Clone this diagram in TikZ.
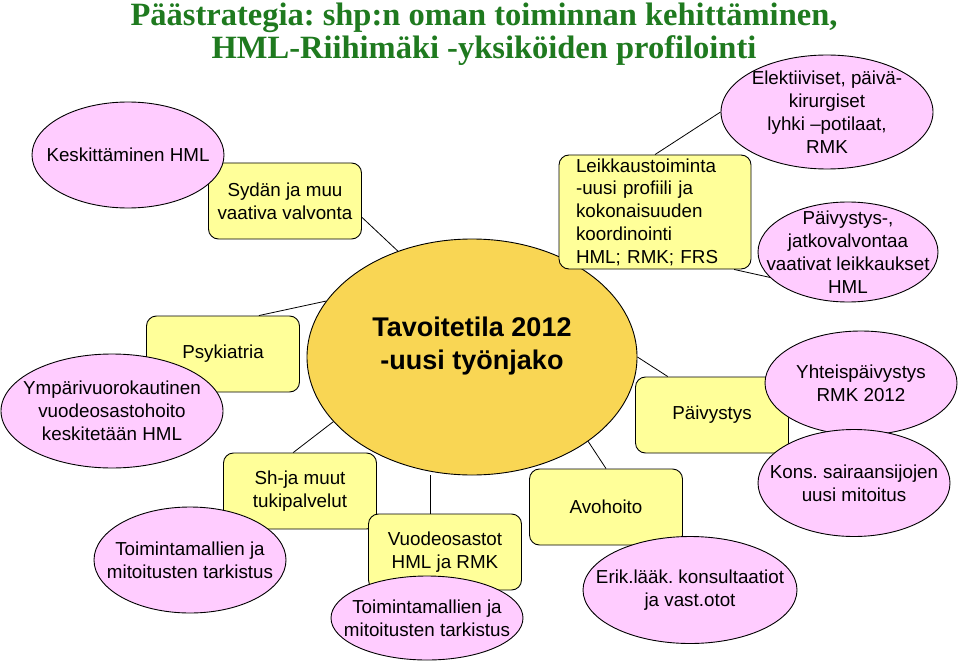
\documentclass[tikz,border=0pt]{standalone}
\usepackage{fontspec}
\setmainfont{Liberation Sans}
\newfontfamily\titlefont{Liberation Serif}
\usetikzlibrary{shapes.geometric}
\definecolor{pinkfill}{RGB}{255,204,255}
\definecolor{yfill}{RGB}{255,255,153}
\definecolor{cfill}{RGB}{249,214,84}
\definecolor{titlegreen}{RGB}{31,122,31}
\frenchspacing
\begin{document}
\begin{tikzpicture}[x=1pt,y=-1pt,
  lbl/.style={font=\fontsize{18.8}{22.8}\selectfont, align=center, text=black},
  ybox/.style={lbl, rectangle, draw=black, line width=0.9pt, fill=yfill, rounded corners=10pt,
    minimum width=153pt, minimum height=76pt, inner sep=0pt},
  pell/.style={lbl, ellipse, draw=black, line width=0.9pt, fill=pinkfill,
    inner xsep=-80pt, inner ysep=-40pt},
  conn/.style={draw=black, line width=0.8pt},
  titlestyle/.style={font=\titlefont\bfseries\fontsize{32.5}{33}\selectfont, text=titlegreen,
    align=center, inner sep=0pt}]
\useasboundingbox (0,0) rectangle (960,663);
\fill[white] (0,0) rectangle (960,663);

\node[titlestyle, anchor=north] (title) at (484,3)
  {Päästrategia: shp:n oman toiminnan kehittäminen,\\HML-Riihimäki -yksiköiden profilointi};

% centre
\node[ellipse, draw=black, line width=0.9pt, fill=cfill, minimum width=330pt, minimum height=236pt,
  inner sep=0pt, align=center, font=\fontsize{27}{33}\selectfont\bfseries, text depth=27pt] (c) at (472,357)
  {Tavoitetila 2012\\-uusi työnjako};

% boxes
\node[ybox] (syd) at (285,201) {Sydän ja muu\\vaativa valvonta};
\node[ybox] (psy) at (223,354) {Psykiatria};
\node[ybox] (sh) at (300,491) {Sh-ja muut\\tukipalvelut};
\node[ybox] (vuo) at (445,552) {Vuodeosastot\\HML ja RMK};
\node[ybox] (avo) at (606,507) {Avohoito};
\node[ybox] (pai) at (712,415) {Päivystys};
\node[ybox, minimum width=192pt, minimum height=114pt, text width=158pt, align=left] (lei) at (655,212)
  {Leikkaustoiminta\\-uusi profiili ja\\kokonaisuuden\\koordinointi\\HML; RMK; FRS};

% ellipses
\node[pell, minimum width=192pt, minimum height=106pt] (kes) at (128,155) {Keskittäminen HML};
\node[pell, minimum width=222pt, minimum height=114pt] (ymp) at (112,411)
  {Ympärivuorokautinen\\vuodeosastohoito\\keskitetään HML};
\node[pell, minimum width=192pt, minimum height=106pt] (tl) at (190,560)
  {Toimintamallien ja\\mitoitusten tarkistus};
\node[pell, minimum width=192pt, minimum height=84pt] (tb) at (427,618)
  {Toimintamallien ja\\mitoitusten tarkistus};
\node[pell, minimum width=214pt, minimum height=107pt] (eri) at (690,590)
  {Erik.lääk. konsultaatiot\\ja vast.otot};
\node[pell, minimum width=192pt, minimum height=104pt] (yht) at (861,383)
  {Yhteispäivystys\\RMK 2012};
\node[pell, minimum width=192pt, minimum height=107pt] (kon) at (854,483)
  {Kons. sairaansijojen\\uusi mitoitus};
\node[pell, minimum width=212pt, minimum height=114pt] (ele) at (827,112)
  {Elektiiviset, päivä-\\kirurgiset\\lyhki –potilaat,\\RMK};
\node[pell, minimum width=180pt, minimum height=100pt] (pjv) at (848,252)
  {Päivystys-,\\jatkovalvontaa\\vaativat leikkaukset\\HML};

% connectors
\draw[conn] (syd.-12.5) -- (c.125.4);
\draw[conn] (psy.47) -- (c.159);
\draw[conn] (sh.100.4) -- (c.205.4);
\draw[conn] (vuo.111.5) -- (vuo.111.5 |- c.south);
\draw[conn] (c.-36) -- (avo.north);
\draw[conn] (c.0.7) -- (pai.139.8);
\draw[conn] (lei.north) -- (ele.west);
\draw[conn] (lei.-36.2) -- (pjv.198.4);
\end{tikzpicture}
\end{document}
